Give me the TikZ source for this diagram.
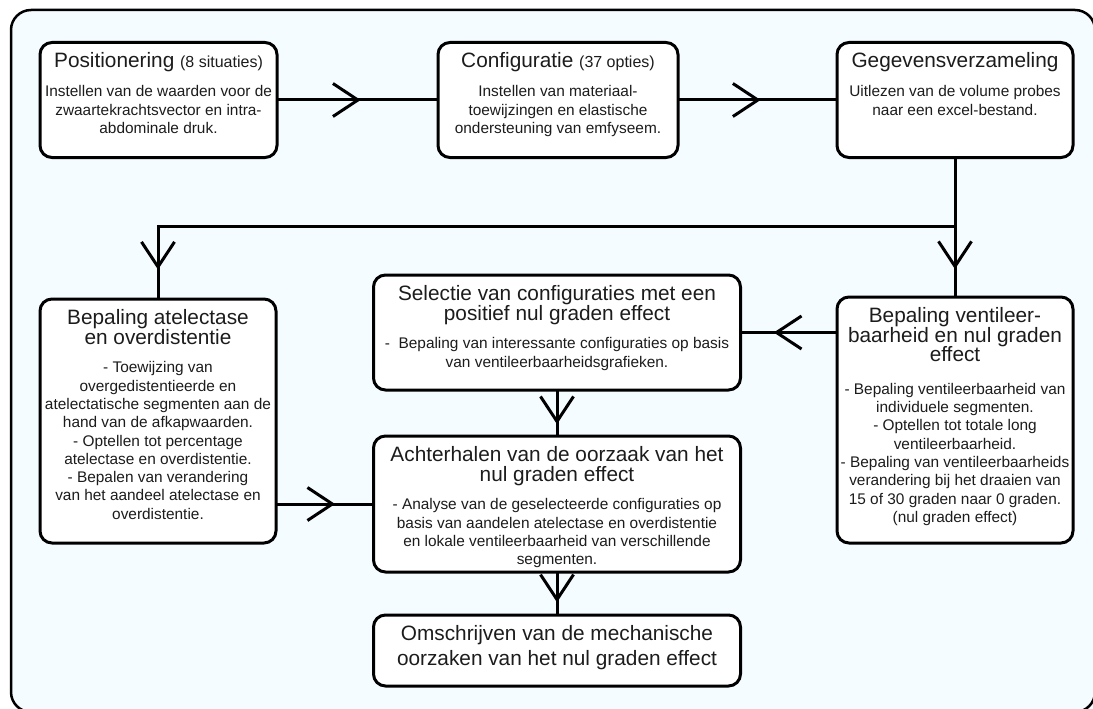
\documentclass[tikz,border=0pt]{standalone}
\usepackage{fontspec}
\setmainfont{Liberation Sans}
\usetikzlibrary{arrows.meta,decorations.markings}
\definecolor{sheet}{RGB}{244,252,255}
\definecolor{ink}{RGB}{28,28,28}
\newcommand{\titlefont}{\fontsize{20.8}{19.5}\selectfont}
\newcommand{\bodyfont}{\fontsize{15.4}{18.3}\selectfont}
\newcommand{\stagetext}[4]{\parbox[c][#2][t]{#1}{\centering
	\titlefont\rule{0pt}{25.5pt}#3\par\vspace{10.5pt}\bodyfont #4\par}}
\tikzset{
	stage/.style={draw, line width=3pt, rounded corners=12pt, fill=white, text=ink, inner sep=0pt},
	conn/.style={line width=3pt, line cap=rect},
	flow/.style={conn, decoration={markings, mark=at position #1 with
		{\arrow{Straight Barb[length=25pt,width=33pt]}}}, postaction={decorate}},
}

\begin{document}
\begin{tikzpicture}[x=1pt, y=-1pt]
	\useasboundingbox (0,0) rectangle (1093,709);
	\draw [line width=2.5pt, rounded corners=20pt, fill=sheet] 
		(11,10) rectangle (1095,712);
	\node [stage] (pos) at (158.5,100) 
		{ \stagetext{237pt}{115pt}
			{Positionering {\fontsize{16}{19}\selectfont (8 situaties)}}
			{Instellen van de waarden voor de\\ zwaartekrachtsvector en intra-\\ abdominale druk.} };
	\node [stage] (conf) at (558,100) 
		{ \stagetext{240pt}{115pt}
			{Configuratie {\fontsize{16}{19}\selectfont (37 opties)}}
			{Instellen van materiaal-\\ toewijzingen en elastische\\ ondersteuning van emfyseem.} };
	\node [stage] (data) at (955,100) 
		{ \stagetext{236pt}{115pt}
			{Gegevensverzameling}
			{Uitlezen van de volume probes\\ naar een excel-bestand.} };
	\node [stage] (atel) at (158,421) 
		{ \stagetext{236pt}{244pt}
			{Bepaling atelectase\\ en overdistentie}
			{- Toewijzing van\\ overgedistentieerde en\\ atelectatische segmenten aan de\\ 
			hand van de afkapwaarden.\\ - Optellen tot percentage\\ atelectase en overdistentie.\\ 
			- Bepalen van verandering\\ van het aandeel atelectase en\\ overdistentie.} };
	\node [stage] (sel) at (557,332.5) 
		{ \stagetext{367pt}{115pt}
			{Selectie van configuraties met een\\ positief nul graden effect}
			{-\ \ Bepaling van interessante configuraties op basis\\ van ventileerbaarheidsgrafieken.} };
	\node [stage] (oorz) at (557,504) 
		{ \stagetext{367pt}{136pt}
			{Achterhalen van de oorzaak van het\\ nul graden effect}
			{- Analyse van de geselecteerde configuraties op\\ basis van aandelen atelectase en overdistentie\\ 
			en lokale ventileerbaarheid van verschillende\\ segmenten.} };
	\node [stage] (mech) at (557,650.5) 
		{ \stagetext{367pt}{71pt}
			{Omschrijven van de mechanische\\[5.5pt] oorzaken van het nul graden effect}
			{} };
	\node [stage] (vent) at (955,420) 
		{ \stagetext{236pt}{246pt}
			{Bepaling ventileer-\\ baarheid en nul graden\\ effect}
			{\vspace{4pt}- Bepaling ventileerbaarheid van\\ individuele segmenten.\\ - Optellen tot totale long\\ 
			ventileerbaarheid.\\ - Bepaling van ventileerbaarheids\\ verandering bij het draaien van\\ 
			15 of 30 graden naar 0 graden.\\ (nul graden effect)} };
	\coordinate (split) at (955,226);
	\coordinate (turn) at (158,226);
	\draw [flow=0.52] (pos) -- (conf);
	\draw [flow=0.52] (conf) -- (data);
	\draw [conn] (data) -- (split) -- (turn);
	\draw [flow=0.62] (split) -- (vent);
	\draw [flow=0.61] (turn) -- (atel);
	\draw [flow=0.66] (sel.east -| vent.west) -- (sel.east);
	\draw [flow=0.61] (oorz.west -| atel.east) -- (oorz.west);
	\draw [flow=0.76] (sel) -- (oorz);
	\draw [flow=0.72] (oorz) -- (mech);
\end{tikzpicture}
\end{document}
